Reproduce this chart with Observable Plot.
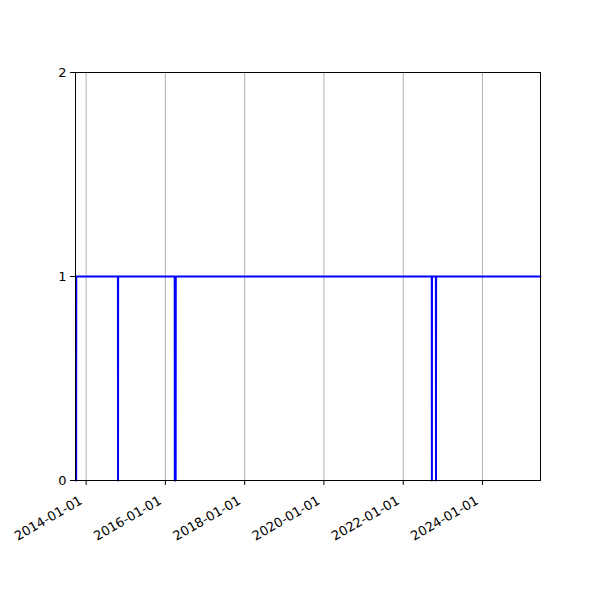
<!DOCTYPE html>
<html>
<head>
<meta charset="utf-8">
<script src="https://cdn.jsdelivr.net/npm/d3@7"></script>
<script src="https://cdn.jsdelivr.net/npm/@observablehq/plot@0.6"></script>
<style>
  html, body { margin: 0; padding: 0; background: #fff; }
  #chart { width: 600px; height: 600px; }
  svg { font-family: "DejaVu Sans", sans-serif; }
</style>
</head>
<body>
<div id="chart"></div>
<script>
// Change points of the series (value holds between consecutive points)
const dates = [
  "2013-10-01", "2013-10-02",
  "2014-10-21", "2014-10-22", "2014-10-23",
  "2016-03-27", "2016-03-28", "2016-04-05", "2016-04-06",
  "2022-09-21", "2022-09-22", "2022-09-23",
  "2022-10-29", "2022-10-30", "2022-10-31",
  "2025-06-19"
];
const values = [0, 1, 1, 0, 1, 1, 0, 0, 1, 1, 0, 1, 1, 0, 1, 1];
const xTickLabels = ["2014-01-01", "2016-01-01", "2018-01-01", "2020-01-01", "2022-01-01", "2024-01-01"];
const yTicks = [0, 1, 2];
const xDomain = ["2013-09-25", "2025-06-19"];

const parse = d3.utcParse("%Y-%m-%d");
const data = dates.map((d, i) => ({date: parse(d), value: values[i]}));
const xTicks = xTickLabels.map(parse);

const chart = Plot.plot({
  width: 600,
  height: 600,
  marginLeft: 75,
  marginRight: 60,
  marginTop: 72,
  marginBottom: 120,
  style: {fontFamily: "DejaVu Sans, sans-serif", fontSize: "13px", color: "#000", background: "#fff"},
  x: {type: "utc", domain: xDomain.map(parse)},
  y: {domain: [0, 2]},
  marks: [
    Plot.gridX(xTicks, {stroke: "#b0b0b0", strokeOpacity: 1, strokeWidth: 1}),
    Plot.line(data, {x: "date", y: "value", stroke: "#0000ff", strokeWidth: 2, curve: "linear"}),
    Plot.frame({stroke: "#000", strokeWidth: 1}),
    Plot.axisX(xTicks, {
      tickFormat: () => "",
      tickSize: 5,
      label: null,
      stroke: "#000"
    }),
    Plot.axisX(xTicks, {
      tickFormat: d3.utcFormat("%Y-%m-%d"),
      tickRotate: -30,
      tickSize: 0,
      tickPadding: 9,
      dx: -5,
      dy: 10,
      fontSize: 13,
      label: null
    }),
    Plot.axisY(yTicks, {
      tickSize: 5,
      tickPadding: 4,
      fontSize: 13,
      label: null,
      tickFormat: d => String(d),
      stroke: "#000"
    })
  ]
});
document.getElementById("chart").appendChild(chart);
</script>
</body>
</html>
